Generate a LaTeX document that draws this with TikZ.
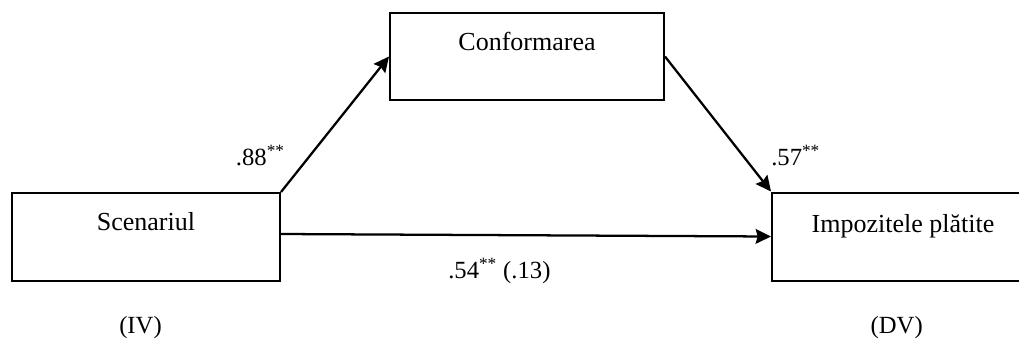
\documentclass[tikz,border=0pt]{standalone}
\usepackage{fontspec}
\setmainfont{Liberation Serif}
\usepackage{tikz}
\usetikzlibrary{positioning, arrows.meta}

\begin{document}
\begin{tikzpicture}[x=0.75pt, y=-0.75pt,
    box/.style={draw, line width=1.5pt, minimum width=#1, minimum height=66pt, inner sep=0pt},
    box/.default=201pt,
    boxtext/.style={font=\fontsize{19.5}{23}\selectfont, anchor=base, inner sep=0pt},
    coef/.style={font=\fontsize{18.5}{22}\selectfont, inner sep=0pt},
    effect/.style={line width=1.7pt, -{Stealth[length=11.5pt, width=11pt, inset=1.5pt]}}]
    \useasboundingbox (0,0) rectangle (1019,340);

    % boxes
    \node[box] (scen) at (146,237) {};
    \node[box=205.5pt, minimum height=65.25pt] (conf) at (527,56.5) {};
    \node[box=198pt] (imp) at (904,236.5) {};

    \node[boxtext] (scentxt) at (146,230) {Scenariul};
    \node[boxtext] (conftxt) at (527,50) {Conformarea};
    \node[boxtext] (imptxt) at (903,232) {Impozitele plătite};

    % paths
    \draw[effect] (scen.north east) -- (conf.west);
    \draw[effect] (conf.east) -- (imp.north west);
    \draw[effect] ([yshift=2.25pt]scen.east) -- (imp.west);

    \node[coef, anchor=base east] (acoef) at (285,165) {.88\textsuperscript{**}};
    \node[coef, anchor=base west] (bcoef) at (771,165) {.57\textsuperscript{**}};
    \node[coef, anchor=base west] (ccoef) at (448,278) {.54\textsuperscript{**} (.13)};

    \node[coef, anchor=base east] (ivlab) at (162,333) {(IV)};
    \node[coef, anchor=base east] (dvlab) at (923,333) {(DV)};
  \end{tikzpicture}
\end{document}
